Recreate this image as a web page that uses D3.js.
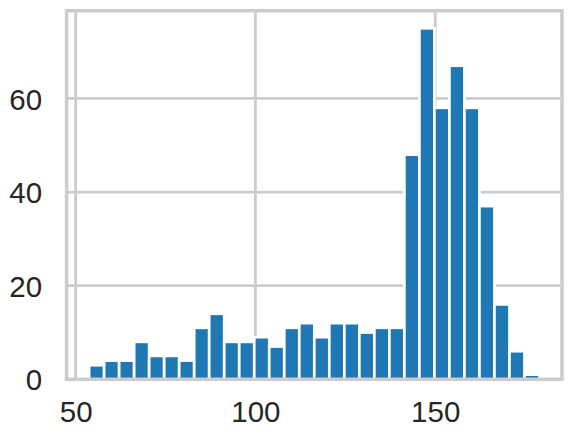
<!DOCTYPE html>
<html>
<head>
<meta charset="utf-8">
<script src="https://cdn.jsdelivr.net/npm/d3@7"></script>
<style>
  html, body { margin: 0; padding: 0; background: #ffffff; }
  svg { display: block; }
</style>
</head>
<body>
<script>
// ---- data ----
const counts = [3, 4, 4, 8, 5, 5, 4, 11, 14, 8, 8, 9, 7, 11, 12, 9, 12, 12, 10, 11, 11, 48, 75, 58, 67, 58, 37, 16, 6, 1];
const binStart = 53.75;
const binWidth = 4.175;
const xTicks = [50, 100, 150];
const yTicks = [0, 20, 40, 60];

const W = 571, H = 440;
const plot = { left: 66.6, right: 562, top: 10.7, bottom: 379.3 };

const bins = counts.map((c, i) => ({ x0: binStart + i * binWidth, x1: binStart + (i + 1) * binWidth, n: c }));
const xmin = bins[0].x0, xmax = bins[bins.length - 1].x1;
const xpad = (xmax - xmin) * 0.05;
const ymax = d3.max(counts) * 1.05;

const x = d3.scaleLinear().domain([xmin - xpad, xmax + xpad]).range([plot.left, plot.right]);
const y = d3.scaleLinear().domain([0, ymax]).range([plot.bottom, plot.top]);

const svg = d3.select("body").append("svg").attr("width", W).attr("height", H);
svg.append("rect").attr("width", W).attr("height", H).attr("fill", "#ffffff");

const gridColor = "#cccccc";
const textColor = "#262626";
const font = "'Liberation Sans', Arial, sans-serif";
const fontSize = 29.5;

// grid
const grid = svg.append("g");
grid.selectAll("line.vx").data(xTicks).join("line")
  .attr("x1", d => x(d)).attr("x2", d => x(d))
  .attr("y1", plot.top).attr("y2", plot.bottom)
  .attr("stroke", gridColor).attr("stroke-width", 2.8);
grid.selectAll("line.hy").data(yTicks).join("line")
  .attr("x1", plot.left).attr("x2", plot.right)
  .attr("y1", d => y(d)).attr("y2", d => y(d))
  .attr("stroke", gridColor).attr("stroke-width", 2.8);

// bars
svg.append("g").selectAll("rect").data(bins).join("rect")
  .attr("x", d => x(d.x0))
  .attr("width", d => x(d.x1) - x(d.x0))
  .attr("y", d => y(d.n))
  .attr("height", d => y(0) - y(d.n))
  .attr("fill", "#1f77b4")
  .attr("stroke", "#ffffff")
  .attr("stroke-width", 2.7);

// spines
svg.append("rect")
  .attr("x", plot.left).attr("y", plot.top)
  .attr("width", plot.right - plot.left).attr("height", plot.bottom - plot.top)
  .attr("fill", "none").attr("stroke", gridColor).attr("stroke-width", 3.5);

// axes tick labels using d3 axes
const xAxis = d3.axisBottom(x).tickValues(xTicks).tickSize(0).tickPadding(22).tickFormat(d3.format("d"));
const gx = svg.append("g").attr("transform", `translate(0,${plot.bottom})`).call(xAxis);
gx.select(".domain").remove();
gx.selectAll("text").attr("fill", textColor).attr("font-size", fontSize).attr("font-family", font).attr("dy", "0.71em").attr("y", 22);

const yAxis = d3.axisLeft(y).tickValues(yTicks).tickSize(0).tickPadding(24.5).tickFormat(d3.format("d"));
const gy = svg.append("g").attr("transform", `translate(${plot.left},0)`).call(yAxis);
gy.select(".domain").remove();
gy.selectAll("text").attr("fill", textColor).attr("font-size", fontSize).attr("font-family", font).attr("dy", "0.36em");
</script>
</body>
</html>
